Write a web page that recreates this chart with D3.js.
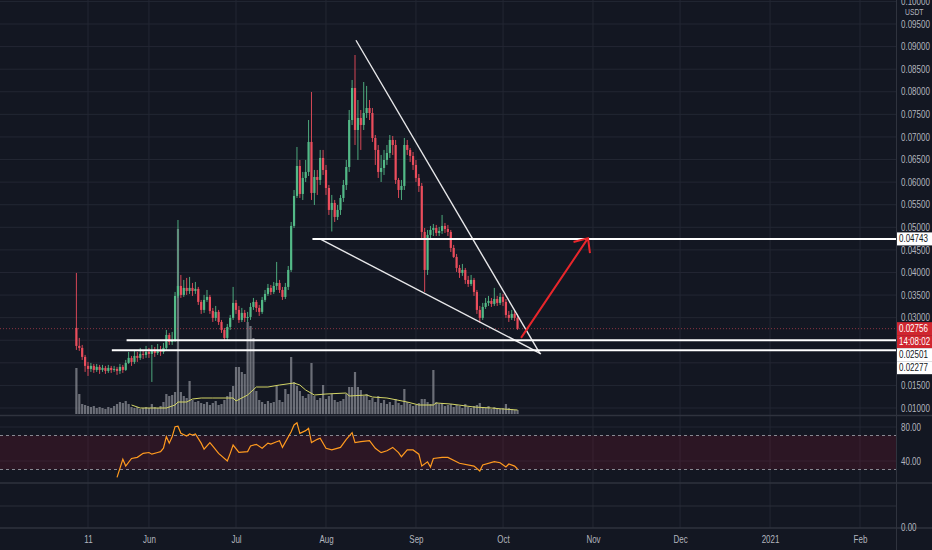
<!DOCTYPE html>
<html>
<head>
<meta charset="utf-8">
<script src="https://cdn.jsdelivr.net/npm/d3@7"></script>
<style>
html, body { margin: 0; padding: 0; background: #131722; overflow: hidden; }
svg { display: block; }
text { font-family: "Liberation Sans", Arial, sans-serif; }
</style>
</head>
<body>
<script>
// ---- datos (velas diarias desde el 7 de mayo de 2020) ----
var firstDay = "2020-05-07";

var opens = [.02773,.02374,.02330,.02131,.01932,.01865,.01932,.01843,.01910,.01843,
.01887,.01821,.01887,.01843,.01865,.01821,.01910,.01843,.01998,.02109,
.02020,.02153,.02109,.02197,.02175,.02241,.02197,.02264,.02219,.02286,
.02241,.02330,.02617,.02462,.02507,.03481,.03702,.03503,.03658,.03591,
.03658,.03591,.03636,.03348,.03171,.03392,.03459,.03149,.02994,.03127,
.02905,.02728,.02551,.02794,.02994,.03326,.03171,.02949,.03105,.02994,
.03016,.03237,.03348,.03215,.03127,.03392,.03525,.03658,.03569,.03702,
.03768,.03613,.03459,.03680,.04056,.05030,.05694,.06357,.05738,.06092,
.06225,.06889,.05760,.06114,.06048,.06535,.06269,.05870,.05384,.05539,
.05229,.05384,.05649,.05937,.06335,.07375,.08084,.07154,.07420,.07265,
.07530,.07641,.07530,.06977,.06712,.06225,.06313,.06490,.06645,.06933,
.06822,.06048,.05826,.05915,.06822,.06712,.06579,.06380,.06092,.05915,
.04897,.04056,.04831,.04941,.04985,.04875,.04919,.05030,.04963,.04897,
.04543,.04344,.04100,.03990,.04056,.03835,.03746,.03835,.03569,.03171,
.02994,.03237,.03326,.03370,.03304,.03414,.03326,.03459,.03348,.03060,
.02994,.03083,.02994];

var highs = [.03990,.02551,.02396,.02175,.02020,.01998,.01976,.01976,.01954,.01954,
.01932,.01954,.01932,.01932,.01910,.01976,.01954,.02064,.02241,.02153,
.02286,.02241,.02330,.02286,.02374,.02330,.02396,.02352,.02418,.02374,
.02440,.02728,.02662,.02684,.03569,.05162,.03945,.03835,.03879,.03901,
.03768,.03790,.03680,.03392,.03503,.03613,.03503,.03215,.03259,.03171,
.02949,.02772,.02861,.03060,.03680,.03392,.03259,.03215,.03171,.03127,
.03326,.03436,.03392,.03281,.03459,.03613,.03746,.03724,.03790,.04233,
.03835,.03680,.03768,.04144,.05118,.05826,.06778,.06490,.06225,.06490,
.07375,.07995,.06269,.06269,.06712,.06712,.06380,.05937,.05716,.05605,
.05494,.05716,.06048,.06490,.07597,.08261,.08814,.07818,.07597,.08216,
.08129,.07818,.07641,.07043,.06822,.06601,.06712,.06822,.07043,.07021,
.06933,.06092,.06048,.06977,.06933,.06756,.06667,.06490,.06180,.05981,
.04985,.04941,.05030,.05074,.05052,.05008,.05273,.05096,.05052,.04941,
.04610,.04410,.04167,.04189,.04100,.03924,.03945,.03879,.03613,.03259,
.03326,.03436,.03481,.03436,.03658,.03481,.03547,.03525,.03414,.03149,
.03171,.03149,.03083];

var lows = [.02286,.02264,.02064,.01799,.01710,.01799,.01777,.01799,.01755,.01799,
.01755,.01777,.01777,.01799,.01733,.01755,.01777,.01821,.01976,.01932,
.01976,.02020,.02064,.02087,.02109,.02109,.01577,.02131,.02175,.02153,
.02197,.02286,.02396,.02396,.02462,.03436,.03436,.03459,.03503,.03525,
.03481,.03525,.03281,.03083,.03105,.03348,.03083,.02905,.02927,.02839,
.02662,.02485,.02485,.02728,.02949,.03083,.02883,.02905,.02905,.02905,
.02949,.03171,.03127,.03038,.03083,.03348,.03481,.03503,.03525,.03613,
.03547,.03392,.03414,.03613,.04012,.04985,.05649,.05649,.05605,.06003,
.06136,.05605,.05494,.05716,.05937,.06158,.05716,.05273,.04907,.05118,
.05162,.05273,.05561,.05826,.06225,.07265,.06822,.06490,.06712,.07154,
.07420,.07375,.06889,.06380,.06092,.06003,.06158,.06380,.06535,.06601,
.05959,.05649,.05605,.05826,.06601,.06446,.06269,.06003,.05782,.04764,
.03569,.03945,.04720,.04808,.04808,.04808,.04853,.04875,.04808,.04454,
.04322,.04012,.03879,.03924,.03746,.03680,.03702,.03481,.03083,.02883,
.02949,.03193,.03259,.03237,.03259,.03259,.03281,.03259,.02994,.02905,
.02949,.02927,.02728];

var closes = [.02374,.02330,.02131,.01932,.01865,.01932,.01843,.01910,.01843,.01887,
.01821,.01887,.01843,.01865,.01821,.01910,.01843,.01998,.02109,.02020,
.02153,.02109,.02197,.02175,.02241,.02197,.02264,.02219,.02286,.02241,
.02330,.02617,.02462,.02507,.03481,.03702,.03503,.03658,.03591,.03658,
.03591,.03636,.03348,.03171,.03392,.03459,.03149,.02994,.03127,.02905,
.02728,.02551,.02794,.02994,.03326,.03171,.02949,.03105,.02994,.03016,
.03237,.03348,.03215,.03127,.03392,.03525,.03658,.03569,.03702,.03768,
.03613,.03459,.03680,.04056,.05030,.05694,.06357,.05738,.06092,.06225,
.06889,.05760,.06114,.06048,.06535,.06269,.05870,.05384,.05539,.05229,
.05384,.05649,.05937,.06335,.07375,.08084,.07154,.07420,.07265,.07530,
.07641,.07530,.06977,.06712,.06225,.06313,.06490,.06645,.06933,.06822,
.06048,.05826,.05915,.06822,.06712,.06579,.06380,.06092,.05915,.04897,
.04056,.04831,.04941,.04985,.04875,.04919,.05030,.04963,.04897,.04543,
.04344,.04100,.03990,.04056,.03835,.03746,.03835,.03569,.03171,.02994,
.03237,.03326,.03370,.03304,.03414,.03326,.03459,.03348,.03060,.02994,
.03083,.02994,.02756];

var volumes = [46,20,10,9,8,7,8,6,7,6,
5,7,6,8,10,12,11,13,10,7,
6,7,5,6,7,6,10,7,6,8,
12,20,18,19,22,185,22,18,16,33,
14,12,13,11,10,12,9,11,13,9,
10,14,18,22,28,47,47,42,40,92,
88,76,23,14,12,10,13,11,12,28,
14,12,25,20,57,32,28,23,18,16,
20,51,18,14,16,29,15,18,20,14,
12,13,15,20,27,27,42,27,24,18,
20,14,16,12,18,11,14,10,12,9,
15,11,9,25,12,10,8,9,11,15,
15,12,10,44,12,10,11,8,9,10,
7,9,8,6,10,7,6,8,9,11,
7,6,8,5,7,6,5,6,10,6,
5,4,4];

// media de volumen, índice de día desde firstDay
var volMaDays = [19,22,26,31,34,35,38,40,43,47,54,55,59,62,66,70,75,77,79,82,86,93,94,100,102,107,114,118,123,124,129,137,143,147,152];
var volMa = [9,6,6,6,9,12,12,15,16,16,16,13,19,27,27,29,31,29,24,19,20,21,18,19,17,16,12,9,9,11,10,7,6,5,4];

// RSI
var rsiDays = [14,16,17,19,21,23,25,26,28,29,30,31,32,33,34,35,36,38,39,40,41,43,44,46,47,49,52,53,54,56,59,60,62,64,66,67,69,70,71,74,75,76,77,79,80,81,83,84,86,88,91,93,95,96,98,101,103,105,107,109,111,112,114,116,118,119,121,122,123,126,128,132,137,139,140,144,146,148,149,151,152];
var rsiValues = [20.8,42,34,43,44.3,49,50,48,50,51,55,68.6,61,68.6,80.4,81,72.6,69.4,71.8,70.6,71.8,61,53.8,61.6,57.6,49,40,49,58.8,50.2,51,57.6,59.6,55,61,60,62.7,63.9,56,74.5,82.4,85,72.6,75.7,78.5,61.6,65.5,66.7,55,53,56,65.5,73.3,61.6,62.7,64,55,49.8,52,56,49.8,45,53,53,48,34,39,33,43,44.3,44.3,37.3,34,28.2,35.3,39.2,38,33,36.5,34,30.6];

// ejes
var monthTicks = ["2020-05-11","2020-06-01","2020-07-01","2020-08-01","2020-09-01","2020-10-01","2020-11-01","2020-12-01","2021-01-01","2021-02-01"];
var monthLabels = ["11","Jun","Jul","Aug","Sep","Oct","Nov","Dec","2021","Feb"];
var priceGrid = [0.010,0.015,0.020,0.025,0.030,0.035,0.040,0.045,0.050,0.055,0.060,0.065,0.070,0.075,0.080,0.085,0.090,0.095,0.100];
var priceLabels = [0.010,0.015,0.030,0.035,0.040,0.045,0.050,0.055,0.060,0.065,0.070,0.075,0.080,0.085,0.090,0.095,0.100];
var rsiLabels = [80, 40];
var rsiBands = [70, 30];

// dibujos
var trendStarts = [["2020-08-11T08:00", 0.0914], ["2020-07-29T22:00", 0.04743]];
var trendEnds = [["2020-10-13T19:00", 0.0220], ["2020-10-14T02:00", 0.0220]];
var rayStarts = ["2020-07-27T08:00", "2020-05-24T07:00", "2020-05-19T05:00"];
var rayPrices = [0.04743, 0.02501, 0.02277];
var arrowFrom = ["2020-10-07T05:00", 0.02551];
var arrowTo = ["2020-10-30T07:00", 0.0476];

// etiquetas del eje de precios
var tagTexts = ["0.04743", "0.02756", "14:08:02", "0.02501", "0.02277"];
var tagPrices = [0.04743, 0.02756, 0.02756, 0.02501, 0.02277];
var tagKinds = ["drawing", "last", "last", "drawing", "drawing"];

// ---- dibujo ----
var W = 932, H = 550;
var axisX = 896;
var mainBottom = 415, rsiTop = 417, rsiBottom = 483, paneBottom = 528;
var upColor = "#53b987", downColor = "#eb4d5c";
var textColor = "#b2b5be", gridColor = "#232733";
var squeeze = 0.8;

var parseDay = d3.timeParse("%Y-%m-%d");
var parseTime = d3.timeParse("%Y-%m-%dT%H:%M");
var start = parseDay(firstDay);
var dayDate = function(i) { return d3.timeDay.offset(start, i); };

var x = d3.scaleTime()
  .domain([parseDay("2020-05-11"), parseDay("2021-02-01")])
  .range([88, 860]);
var yPrice = d3.scaleLinear().domain([0.010, 0.095]).range([408, 24]);
var yVol = d3.scaleLinear().domain([0, 100]).range([414, 314]);
var yRsi = d3.scaleLinear().domain([40, 80]).range([461, 427]);
var yPane3 = d3.scaleLinear().domain([0, 2]).range([527, 485]);

var svg = d3.select("body").append("svg").attr("width", W).attr("height", H);
svg.append("rect").attr("width", W).attr("height", H).attr("fill", "#131722");

var defs = svg.append("defs");
defs.append("clipPath").attr("id", "clipMain").append("rect")
  .attr("x", 0).attr("y", 0).attr("width", axisX).attr("height", mainBottom);
defs.append("clipPath").attr("id", "clipRsi").append("rect")
  .attr("x", 0).attr("y", rsiTop).attr("width", axisX).attr("height", rsiBottom - rsiTop);

// rejilla
var grid = svg.append("g");
grid.selectAll(".vg").data(monthTicks).enter().append("line")
  .attr("x1", function(d) { return x(parseDay(d)); })
  .attr("x2", function(d) { return x(parseDay(d)); })
  .attr("y1", 0).attr("y2", paneBottom)
  .attr("stroke", gridColor).attr("stroke-width", 1);
grid.selectAll(".hg").data(priceGrid).enter().append("line")
  .attr("x1", 0).attr("x2", axisX)
  .attr("y1", function(d) { return yPrice(d); })
  .attr("y2", function(d) { return yPrice(d); })
  .attr("stroke", gridColor).attr("stroke-width", 1);
grid.selectAll(".rg").data(rsiLabels).enter().append("line")
  .attr("x1", 0).attr("x2", axisX)
  .attr("y1", function(d) { return yRsi(d); })
  .attr("y2", function(d) { return yRsi(d); })
  .attr("stroke", gridColor);
grid.append("line").attr("x1", 0).attr("x2", axisX)
  .attr("y1", yPane3(1)).attr("y2", yPane3(1)).attr("stroke", "#2a2e39");

// separadores de paneles
[mainBottom + 0.5, rsiBottom, paneBottom].forEach(function(yy) {
  svg.append("line").attr("x1", 0).attr("x2", W).attr("y1", yy).attr("y2", yy)
    .attr("stroke", "#2f333e").attr("stroke-width", 1.5);
});
svg.append("line").attr("x1", axisX + 0.5).attr("x2", axisX + 0.5)
  .attr("y1", 0).attr("y2", H).attr("stroke", "#2f333e");

// panel principal
var main = svg.append("g").attr("clip-path", "url(#clipMain)");

main.selectAll(".vol").data(volumes).enter().append("rect")
  .attr("x", function(d, i) { return x(dayDate(i)) - 1.1; })
  .attr("width", 2.2)
  .attr("y", function(d) { return yVol(d); })
  .attr("height", function(d) { return yVol(0) - yVol(d); })
  .attr("fill", "#8a8c94").attr("opacity", 0.75);

main.append("path")
  .datum(volMaDays)
  .attr("fill", "none").attr("stroke", "#d3d566").attr("stroke-width", 1)
  .attr("d", d3.line()
    .x(function(d) { return x(dayDate(d)); })
    .y(function(d, i) { return yVol(volMa[i]); }));

// precio actual (línea punteada)
main.append("line")
  .attr("x1", 0).attr("x2", axisX)
  .attr("y1", yPrice(closes[closes.length - 1]))
  .attr("y2", yPrice(closes[closes.length - 1]))
  .attr("stroke", downColor).attr("stroke-dasharray", "1,2").attr("opacity", 0.55);

var candle = main.selectAll(".candle").data(closes).enter().append("g");
candle.append("line")
  .attr("x1", function(d, i) { return x(dayDate(i)); })
  .attr("x2", function(d, i) { return x(dayDate(i)); })
  .attr("y1", function(d, i) { return yPrice(highs[i]); })
  .attr("y2", function(d, i) { return yPrice(lows[i]); })
  .attr("stroke", function(d, i) { return d >= opens[i] ? upColor : downColor; })
  .attr("stroke-width", 0.9);
candle.append("rect")
  .attr("x", function(d, i) { return x(dayDate(i)) - 1.1; })
  .attr("width", 2.2)
  .attr("y", function(d, i) { return yPrice(Math.max(d, opens[i])); })
  .attr("height", function(d, i) { return Math.max(1, Math.abs(yPrice(opens[i]) - yPrice(d))); })
  .attr("fill", function(d, i) { return d >= opens[i] ? upColor : downColor; });

// dibujos: triángulo, líneas horizontales, flecha
var drawings = main.append("g");
drawings.selectAll(".trend").data(trendStarts).enter().append("line")
  .attr("x1", function(d) { return x(parseTime(d[0])); })
  .attr("y1", function(d) { return yPrice(d[1]); })
  .attr("x2", function(d, i) { return x(parseTime(trendEnds[i][0])); })
  .attr("y2", function(d, i) { return yPrice(trendEnds[i][1]); })
  .attr("stroke", "#e8e8ea").attr("stroke-width", 1.4);
drawings.selectAll(".ray").data(rayPrices).enter().append("line")
  .attr("x1", function(d, i) { return x(parseTime(rayStarts[i])); })
  .attr("x2", axisX)
  .attr("y1", function(d) { return yPrice(d); })
  .attr("y2", function(d) { return yPrice(d); })
  .attr("stroke", "#ffffff").attr("stroke-width", 2);

var ax0 = x(parseTime(arrowFrom[0])), ay0 = yPrice(arrowFrom[1]);
var ax1 = x(parseTime(arrowTo[0])), ay1 = yPrice(arrowTo[1]);
var back = Math.atan2(ay0 - ay1, ax0 - ax1);
var headLen = 15, headAngle = 0.72;
drawings.append("path")
  .attr("d", "M" + ax0 + "," + ay0 + "L" + ax1 + "," + ay1 +
    "M" + (ax1 + headLen * Math.cos(back - headAngle)) + "," + (ay1 + headLen * Math.sin(back - headAngle)) +
    "L" + ax1 + "," + ay1 +
    "L" + (ax1 + headLen * Math.cos(back + headAngle)) + "," + (ay1 + headLen * Math.sin(back + headAngle)))
  .attr("fill", "none").attr("stroke", "#e8262b").attr("stroke-width", 2)
  .attr("stroke-linejoin", "miter");

// panel RSI
var rsiG = svg.append("g").attr("clip-path", "url(#clipRsi)");
rsiG.append("rect")
  .attr("x", 0).attr("width", axisX)
  .attr("y", yRsi(rsiBands[0]))
  .attr("height", yRsi(rsiBands[1]) - yRsi(rsiBands[0]))
  .attr("fill", "rgba(125,22,45,0.24)");
rsiG.selectAll(".band").data(rsiBands).enter().append("line")
  .attr("x1", 0).attr("x2", axisX)
  .attr("y1", function(d) { return yRsi(d); })
  .attr("y2", function(d) { return yRsi(d); })
  .attr("stroke", "#a3a6ae").attr("stroke-dasharray", "3,3").attr("opacity", 0.8);
rsiG.append("path")
  .datum(rsiDays)
  .attr("fill", "none").attr("stroke", "#ff9a1f").attr("stroke-width", 1.2)
  .attr("d", d3.line()
    .x(function(d) { return x(dayDate(d)); })
    .y(function(d, i) { return yRsi(rsiValues[i]); }));

// ejes
function styleAxis(g, anchorRight) {
  g.select(".domain").remove();
  g.selectAll(".tick line").remove();
  g.selectAll("text")
    .attr("fill", textColor)
    .style("font-size", "10px")
    .style("font-family", "'Liberation Sans', Arial, sans-serif")
    .attr("transform", "scale(" + squeeze + ",1)");
  if (anchorRight) g.selectAll("text").attr("x", 5 / squeeze);
}

var priceAxis = svg.append("g").attr("transform", "translate(" + axisX + ",0)")
  .call(d3.axisRight(yPrice).tickValues(priceLabels).tickFormat(d3.format(".5f")).tickSize(0));
styleAxis(priceAxis, true);

svg.append("text")
  .attr("transform", "translate(" + (axisX + 9) + ",15) scale(" + squeeze + ",1)")
  .attr("fill", textColor).style("font-size", "8.5px").text("USDT");

var rsiAxis = svg.append("g").attr("transform", "translate(" + axisX + ",0)")
  .call(d3.axisRight(yRsi).tickValues(rsiLabels).tickFormat(d3.format(".2f")).tickSize(0));
styleAxis(rsiAxis, true);

var pane3Axis = svg.append("g").attr("transform", "translate(" + axisX + ",0)")
  .call(d3.axisRight(yPane3).tickValues([0]).tickFormat(d3.format(".2f")).tickSize(0));
styleAxis(pane3Axis, true);

var timeAxis = svg.append("g").attr("transform", "translate(0," + paneBottom + ")")
  .call(d3.axisBottom(x)
    .tickValues(monthTicks.map(function(d) { return parseDay(d); }))
    .tickFormat(function(d, i) { return monthLabels[i]; })
    .tickSize(0).tickPadding(8));
styleAxis(timeAxis, false);

// etiquetas del eje (se apilan si se solapan)
var tagH = 13, prevBottom = -Infinity;
var tagG = svg.append("g");
tagTexts.forEach(function(t, i) {
  var top = Math.max(yPrice(tagPrices[i]) - tagH / 2, prevBottom);
  prevBottom = top + tagH;
  var isLast = tagKinds[i] === "last";
  tagG.append("rect")
    .attr("x", axisX + 1).attr("y", top).attr("width", W - axisX - 1).attr("height", tagH)
    .attr("fill", isLast ? "#d0262f" : "#ffffff");
  tagG.append("text")
    .attr("transform", "translate(" + (axisX + 3) + "," + (top + tagH / 2) + ") scale(" + squeeze + ",1)")
    .attr("dy", "0.35em")
    .attr("fill", isLast ? "#ffffff" : "#131722")
    .style("font-size", "10px")
    .text(t);
});
</script>
</body>
</html>
